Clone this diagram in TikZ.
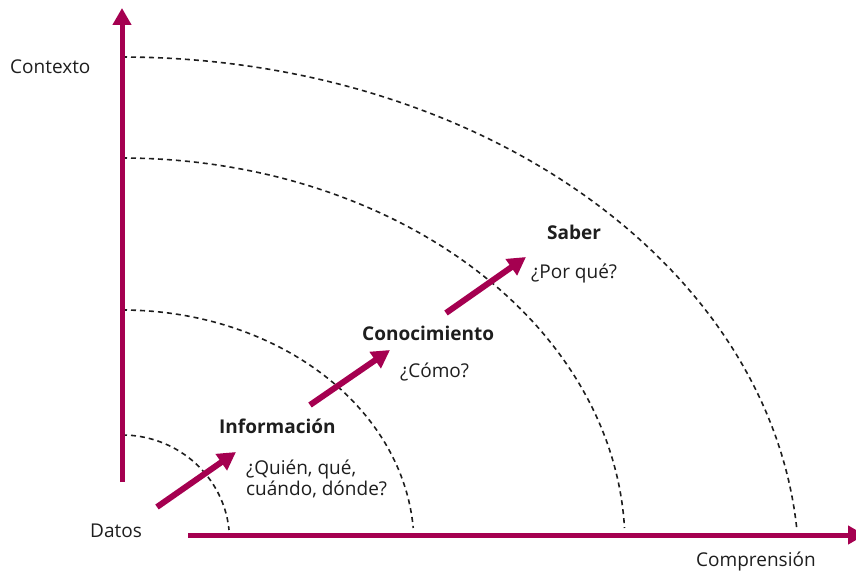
\documentclass[tikz,border=0pt]{standalone}
\usepackage{fontspec}
\setmainfont{Open Sans}
\usetikzlibrary{arrows.meta}
\definecolor{wine}{RGB}{165,0,80}
\definecolor{ink}{RGB}{30,30,30}
\begin{document}
\begin{tikzpicture}[x=1pt,y=-1pt,
  lbl/.style={inner sep=0pt, anchor=base west, text=ink, align=left, font=\fontsize{19}{21}\selectfont},
  blbl/.style={lbl, font=\fontsize{19}{21}\selectfont\bfseries},
  axisline/.style={draw=wine, line width=5pt, -{Triangle[length=17pt,width=18pt]}},
  prog/.style={draw=wine, line width=6pt, -{Triangle[length=18pt,width=19pt]}},
  ring/.style={draw=ink, dash pattern=on 5pt off 4pt, line width=1.6pt}
]
\useasboundingbox (0,0) rectangle (856,572);

% dashed rings
\draw[ring] plot[domain=-90:-5.47, samples=80, variable=\t] ({122+107.5*cos(\t)},{540+105*sin(\t)});
\draw[ring] plot[domain=-90:-4.15, samples=100, variable=\t] ({122+292*cos(\t)},{545+235*sin(\t)});
\draw[ring] plot[domain=-90:-2.52, samples=120, variable=\t] ({122+503*cos(\t)},{545+387*sin(\t)});
\draw[ring] plot[domain=-90:-4.47, samples=140, variable=\t] ({122+677*cos(\t)},{570+513*sin(\t)});

% axes
\coordinate (yfrom) at (122,482);
\coordinate (yto) at (122,8);
\coordinate (xfrom) at (188,535);
\coordinate (xto) at (865,535);
\draw[axisline] (yfrom) -- (yto);
\draw[axisline] (xfrom) -- (xto);

% progress arrows
\coordinate (a1s) at (157,507); \coordinate (a1e) at (236,452);
\coordinate (a2s) at (310,405); \coordinate (a2e) at (390,350);
\coordinate (a3s) at (446,313); \coordinate (a3e) at (526,257);
\draw[prog] (a1s) -- (a1e);
\draw[prog] (a2s) -- (a2e);
\draw[prog] (a3s) -- (a3e);

% labels
\node[lbl] (contexto) at (10,73.5) {Contexto};
\node[lbl] (datos) at (90,537) {Datos};
\node[lbl] (compr) at (696,566.5) {Comprensión};
\node[blbl] (info) at (219,433) {Información};
\node[lbl] (infoq) at (246,495) {¿Quién, qué,\\cuándo, dónde?};
\node[blbl] (conoc) at (362,340) {Conocimiento};
\node[lbl] (conocq) at (400,377) {¿Cómo?};
\node[blbl] (saber) at (547,239) {Saber};
\node[lbl] (saberq) at (531,278) {¿Por qué?};
\end{tikzpicture}
\end{document}
